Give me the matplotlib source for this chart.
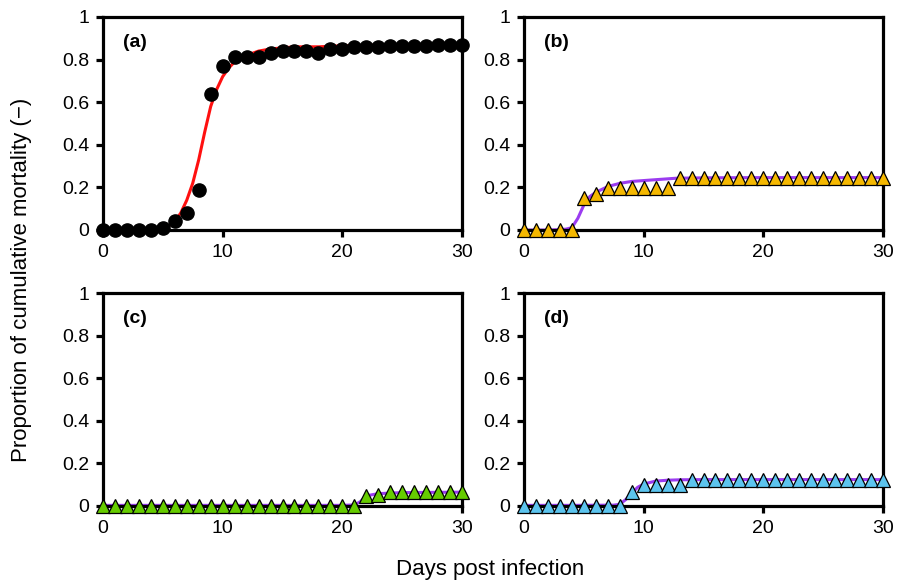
import matplotlib
matplotlib.use("Agg")
import matplotlib.pyplot as plt
import numpy as np

plt.rcParams["font.family"] = ["Liberation Sans", "DejaVu Sans"]

# observed cumulative mortality, one value per day 0..30
days = list(range(31))
obs_a = [0, 0, 0, 0, 0, 0.01, 0.04, 0.08, 0.19, 0.64, 0.77, 0.81, 0.81, 0.81, 0.83,
         0.84, 0.84, 0.84, 0.83, 0.85, 0.85, 0.86, 0.86, 0.86, 0.865, 0.865, 0.865,
         0.865, 0.87, 0.87, 0.87]
obs_b = [0, 0, 0, 0, 0, 0.15, 0.17, 0.195, 0.195, 0.195, 0.195, 0.195, 0.195] + [0.245] * 18
obs_c = [0] * 22 + [0.045, 0.05] + [0.065] * 7
obs_d = [0] * 9 + [0.068, 0.1, 0.1, 0.1, 0.1] + [0.124] * 17

# fitted curves
fit_a_t = [0, 1, 2, 3, 4, 5, 5.5, 6, 6.5, 7, 7.5, 8, 8.5, 9, 9.5, 10, 10.5, 11, 11.5, 12,
           13, 14, 15, 16, 18, 20, 25, 30]
fit_a_y = [0, 0, 0, 0, 0, 0.01, 0.02, 0.04, 0.08, 0.14, 0.22, 0.33, 0.46, 0.58, 0.66,
           0.72, 0.76, 0.79, 0.81, 0.82, 0.84, 0.85, 0.855, 0.86, 0.86, 0.865, 0.87, 0.87]
fit_b_t = [0, 1, 2, 3, 3.5, 4, 4.5, 5, 5.5, 6, 7, 8, 9, 10.7, 12.7, 15, 20, 25, 30]
fit_b_y = [0, 0, 0, 0.002, 0.004, 0.011, 0.055, 0.117, 0.157, 0.177, 0.204, 0.219, 0.228,
           0.235, 0.243, 0.245, 0.246, 0.246, 0.246]
fit_c_t = [0, 10, 20, 21, 21.5, 22, 23, 25, 30]
fit_c_y = [0.003, 0.003, 0.003, 0.005, 0.02, 0.048, 0.058, 0.063, 0.065]
fit_d_t = [0, 4, 7.5, 8, 8.5, 9, 9.5, 10, 11, 12, 13, 15, 20, 25, 30]
fit_d_y = [0.003, 0.003, 0.004, 0.008, 0.03, 0.06, 0.088, 0.103, 0.117, 0.121, 0.123,
           0.124, 0.124, 0.124, 0.124]

panels = [
    ("(a)", obs_a, fit_a_t, fit_a_y, "o", "black", "#ff1010"),
    ("(b)", obs_b, fit_b_t, fit_b_y, "^", "#f5b800", "#9b3cf0"),
    ("(c)", obs_c, fit_c_t, fit_c_y, "^", "#66cc00", "#9b3cf0"),
    ("(d)", obs_d, fit_d_t, fit_d_y, "^", "#5cc4ee", "#9b3cf0"),
]

fig = plt.figure(figsize=(8.98, 5.85), dpi=100)
W, H = 898, 585
boxes = [(103, 17), (524, 17), (103, 293), (524, 293)]
aw, ah = 359, 213

for (label, obs, ft, fy, mk, mc, lc), (x0, y0) in zip(panels, boxes):
    ax = fig.add_axes([x0 / W, 1 - (y0 + ah) / H, aw / W, ah / H])
    ax.plot(ft, fy, color=lc, lw=2.2, zorder=2, clip_on=False)
    if mk == "o":
        ax.plot(days, obs, "o", ms=9.5, mfc=mc, mec=mc, zorder=3, clip_on=False)
    else:
        ax.plot(days, obs, "^", ms=9.5, mfc=mc, mec="black", mew=0.9, zorder=3, clip_on=False)
    ax.set_xlim(0, 30)
    ax.set_ylim(0, 1)
    ax.set_xticks([0, 10, 20, 30])
    ax.set_yticks([0, 0.2, 0.4, 0.6, 0.8, 1])
    ax.set_yticklabels(["0", "0.2", "0.4", "0.6", "0.8", "1"])
    for s in ax.spines.values():
        s.set_linewidth(2.3)
    ax.tick_params(direction="out", length=5, width=2.3, labelsize=14, pad=5)
    ax.text(0.056, 0.878, label, transform=ax.transAxes, fontsize=14,
            fontweight="bold", va="center", ha="left")

fig.text(0.024, 0.521, "Proportion of cumulative mortality (\u2212)", rotation=90,
         va="center", ha="center", fontsize=16)
fig.text(0.546, 0.026, "Days post infection", va="center", ha="center", fontsize=16)

fig.savefig("out.png", dpi=100)
